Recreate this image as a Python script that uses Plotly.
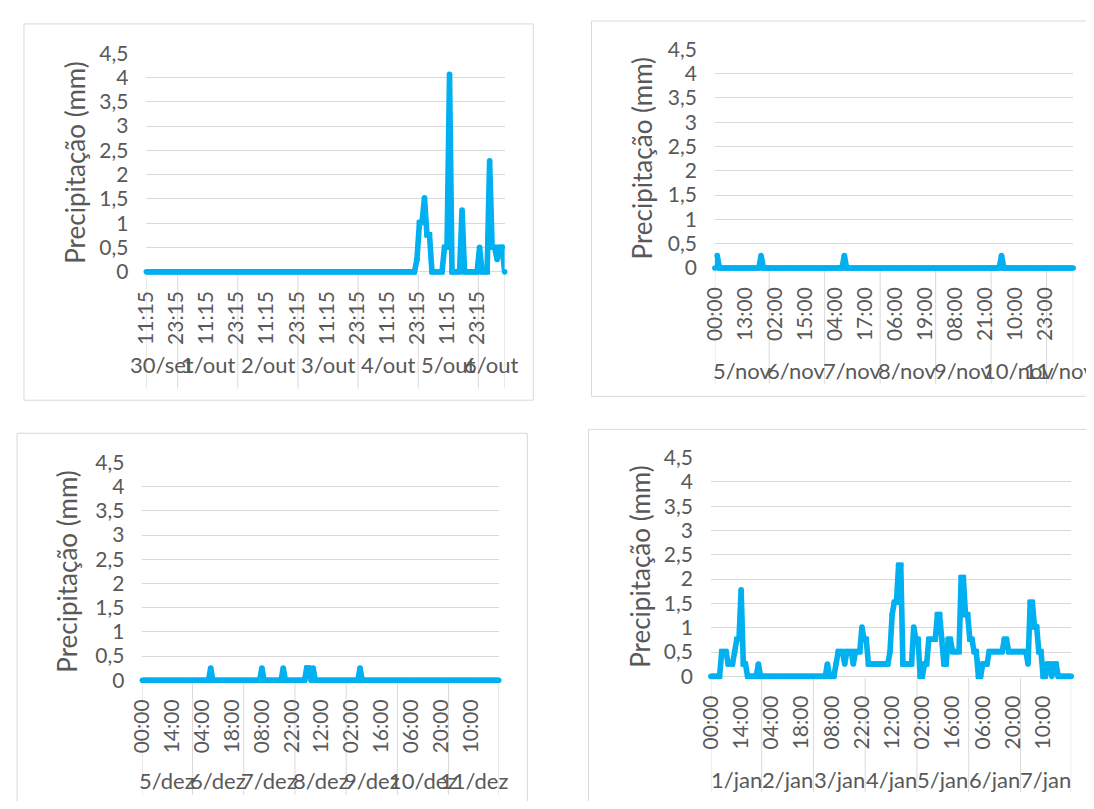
import pandas as pd
import plotly.graph_objects as go

# ---------------- data (hourly precipitation, mm) ----------------
# Panel 1: 30/set - 6/out (readings at hh:15)
p1_start = "2017-09-30 11:15"
p1_count = 144
p1_rain_times = ["2017-10-04 23:15", "2017-10-05 00:15", "2017-10-05 01:15", "2017-10-05 02:15",
                 "2017-10-05 03:15", "2017-10-05 04:15", "2017-10-05 10:15", "2017-10-05 11:15",
                 "2017-10-05 12:15", "2017-10-05 17:15", "2017-10-06 00:15", "2017-10-06 04:15",
                 "2017-10-06 05:15", "2017-10-06 06:15", "2017-10-06 07:15", "2017-10-06 08:15",
                 "2017-10-06 09:15"]
p1_rain_mm = [0.254, 1.016, 1.016, 1.524, 0.762, 0.762, 0.508, 0.508,
              4.064, 1.27, 0.508, 2.286, 0.508, 0.508, 0.254, 0.508, 0.508]
p1_day_labels = ["30/set", "1/out", "2/out", "3/out", "4/out", "5/out", "6/out"]
p1_label_step = 12

# Panel 2: 5/nov - 11/nov
p2_start = "2017-11-05 00:00"
p2_count = 156
p2_rain_times = ["2017-11-05 01:00", "2017-11-05 20:00", "2017-11-07 08:00", "2017-11-10 04:00"]
p2_rain_mm = [0.254, 0.254, 0.254, 0.254]
p2_day_labels = ["5/nov", "6/nov", "7/nov", "8/nov", "9/nov", "10/nov", "11/nov"]
p2_label_step = 13

# Panel 3: 5/dez - 11/dez
p3_start = "2017-12-05 00:00"
p3_count = 168
p3_rain_times = ["2017-12-06 08:00", "2017-12-07 08:00", "2017-12-07 18:00", "2017-12-08 05:00",
                 "2017-12-08 06:00", "2017-12-08 08:00", "2017-12-09 06:00"]
p3_rain_mm = [0.254, 0.254, 0.254, 0.254, 0.254, 0.254, 0.254]
p3_day_labels = ["5/dez", "6/dez", "7/dez", "8/dez", "9/dez", "10/dez", "11/dez"]
p3_label_step = 14

# Panel 4: 1/jan - 7/jan
p4_start = "2018-01-01 00:00"
p4_count = 168
p4_rain_times = [
    "2018-01-01 05:00", "2018-01-01 06:00", "2018-01-01 07:00", "2018-01-01 08:00", "2018-01-01 09:00",
    "2018-01-01 10:00", "2018-01-01 11:00", "2018-01-01 12:00", "2018-01-01 13:00", "2018-01-01 14:00",
    "2018-01-01 15:00", "2018-01-01 16:00", "2018-01-01 22:00",
    "2018-01-03 06:00", "2018-01-03 10:00", "2018-01-03 11:00", "2018-01-03 12:00", "2018-01-03 13:00",
    "2018-01-03 14:00", "2018-01-03 15:00", "2018-01-03 16:00", "2018-01-03 17:00", "2018-01-03 18:00",
    "2018-01-03 19:00", "2018-01-03 20:00", "2018-01-03 21:00", "2018-01-03 22:00", "2018-01-03 23:00",
    "2018-01-04 00:00", "2018-01-04 01:00", "2018-01-04 02:00", "2018-01-04 03:00", "2018-01-04 04:00",
    "2018-01-04 05:00", "2018-01-04 06:00", "2018-01-04 07:00", "2018-01-04 08:00", "2018-01-04 09:00",
    "2018-01-04 10:00", "2018-01-04 11:00", "2018-01-04 12:00", "2018-01-04 13:00", "2018-01-04 14:00",
    "2018-01-04 15:00", "2018-01-04 16:00", "2018-01-04 17:00", "2018-01-04 18:00", "2018-01-04 19:00",
    "2018-01-04 20:00", "2018-01-04 21:00", "2018-01-04 22:00", "2018-01-04 23:00",
    "2018-01-05 00:00", "2018-01-05 03:00", "2018-01-05 04:00", "2018-01-05 05:00", "2018-01-05 06:00",
    "2018-01-05 07:00", "2018-01-05 08:00", "2018-01-05 09:00", "2018-01-05 10:00", "2018-01-05 11:00",
    "2018-01-05 12:00", "2018-01-05 13:00", "2018-01-05 14:00", "2018-01-05 15:00", "2018-01-05 16:00",
    "2018-01-05 17:00", "2018-01-05 18:00", "2018-01-05 19:00", "2018-01-05 20:00", "2018-01-05 21:00",
    "2018-01-05 22:00", "2018-01-05 23:00",
    "2018-01-06 00:00", "2018-01-06 01:00", "2018-01-06 02:00", "2018-01-06 03:00", "2018-01-06 06:00",
    "2018-01-06 07:00", "2018-01-06 08:00", "2018-01-06 09:00", "2018-01-06 10:00", "2018-01-06 11:00",
    "2018-01-06 12:00", "2018-01-06 13:00", "2018-01-06 14:00", "2018-01-06 15:00", "2018-01-06 16:00",
    "2018-01-06 17:00", "2018-01-06 18:00", "2018-01-06 19:00", "2018-01-06 20:00", "2018-01-06 21:00",
    "2018-01-06 22:00", "2018-01-06 23:00",
    "2018-01-07 00:00", "2018-01-07 01:00", "2018-01-07 02:00", "2018-01-07 03:00", "2018-01-07 04:00",
    "2018-01-07 05:00", "2018-01-07 06:00", "2018-01-07 07:00", "2018-01-07 08:00", "2018-01-07 09:00",
    "2018-01-07 12:00", "2018-01-07 13:00", "2018-01-07 15:00", "2018-01-07 16:00"]
p4_rain_mm = [
    0.508, 0.508, 0.508, 0.254, 0.254,
    0.254, 0.508, 0.762, 0.762, 1.778,
    0.254, 0.254, 0.254,
    0.254, 0.254, 0.508, 0.508, 0.508,
    0.254, 0.508, 0.508, 0.508, 0.254,
    0.508, 0.508, 0.508, 1.016, 0.762,
    0.762, 0.254, 0.254, 0.254, 0.254,
    0.254, 0.254, 0.254, 0.254, 0.254,
    0.254, 0.508, 1.27, 1.524, 1.524,
    2.286, 2.286, 0.254, 0.254, 0.254,
    0.254, 0.254, 1.016, 0.762,
    0.762, 0.254, 0.254, 0.762, 0.762,
    0.762, 0.762, 1.27, 1.27, 0.762,
    0.254, 0.254, 0.762, 0.762, 0.508,
    0.508, 0.508, 0.508, 2.032, 2.032,
    1.27, 1.27,
    0.762, 0.762, 0.508, 0.508, 0.254,
    0.254, 0.254, 0.508, 0.508, 0.508,
    0.508, 0.508, 0.508, 0.508, 0.762,
    0.762, 0.508, 0.508, 0.508, 0.508,
    0.508, 0.508,
    0.508, 0.508, 0.508, 0.254, 1.524,
    1.524, 1.016, 1.016, 0.508, 0.508,
    0.254, 0.254, 0.254, 0.254]
p4_day_labels = ["1/jan", "2/jan", "3/jan", "4/jan", "5/jan", "6/jan", "7/jan"]
p4_label_step = 14

y_ticks = [0, 0.5, 1, 1.5, 2, 2.5, 3, 3.5, 4, 4.5]
y_title = "Precipitação (mm)"

# ---------------- styling / layout geometry (screen pixels) ----------------
SCREEN_W, SCREEN_H = 1094, 809
OFF = 8                      # default page margin around the figure div
W, H = SCREEN_W - 2 * OFF, SCREEN_H - 2 * OFF
FONT = "Lato"
TXT = "#595959"
GRID = "#D9D9D9"
BLUE = "#00B0F0"
TICK_SIZE = 21
DAY_SIZE = 22
TITLE_SIZE = 26

panels = [
    dict(start=p1_start, n=p1_count, rt=p1_rain_times, rv=p1_rain_mm, days=p1_day_labels, step=p1_label_step,
         xl=134, xr=497, yt=40, y0=265, frame=(10, 10, 526, 397), sepb=385, dayy=360, titlex=62),
    dict(start=p2_start, n=p2_count, rt=p2_rain_times, rv=p2_rain_mm, days=p2_day_labels, step=p2_label_step,
         xl=710, xr=1073, yt=36, y0=261, frame=(585, 7, 1110, 393), sepb=380, dayy=366, titlex=636),
    dict(start=p3_start, n=p3_count, rt=p3_rain_times, rv=p3_rain_mm, days=p3_day_labels, step=p3_label_step,
         xl=130, xr=491, yt=461, y0=685, frame=(3, 431, 520, 830), sepb=803, dayy=788, titlex=54),
    dict(start=p4_start, n=p4_count, rt=p4_rain_times, rv=p4_rain_mm, days=p4_day_labels, step=p4_label_step,
         xl=706, xr=1071, yt=456, y0=681, frame=(582, 427, 1110, 830), sepb=800, dayy=787, titlex=634),
]


def xp(px):
    return (px - OFF) / W


def yp(py):
    return 1 - (py - OFF) / H


fig = go.Figure()
shapes, annotations = [], []
layout_axes = {}
half = pd.Timedelta(minutes=30)

for i, p in enumerate(panels, start=1):
    sfx = "" if i == 1 else str(i)
    times = pd.date_range(p["start"], periods=p["n"], freq="h")
    series = pd.Series(0.0, index=times)
    series.loc[pd.to_datetime(p["rt"])] = p["rv"]

    fig.add_trace(go.Scatter(x=series.index, y=series.values, mode="lines+markers",
                             line=dict(color=BLUE, width=5.6),
                             marker=dict(color=BLUE, size=5.6, line=dict(width=0)),
                             hoverinfo="skip", showlegend=False, cliponaxis=False,
                             xaxis="x" + sfx, yaxis="y" + sfx))

    pad_px = 3.0
    scale = 4.5 / (p["y0"] - p["yt"])
    layout_axes["xaxis" + sfx] = dict(
        domain=[xp(p["xl"]), xp(p["xr"])], anchor="y" + sfx, type="date",
        range=[times[0], times[-1]], showgrid=False, zeroline=False, showline=False,
        tickmode="array", tickvals=list(times[::p["step"]]),
        ticktext=[t.strftime("%H:%M") for t in times[::p["step"]]],
        tickangle=-90, ticks="", ticklabelstandoff=11,
        tickfont=dict(family=FONT, size=TICK_SIZE, color=TXT), fixedrange=True)
    layout_axes["yaxis" + sfx] = dict(
        domain=[yp(p["y0"] + pad_px), yp(p["yt"])], anchor="x" + sfx,
        range=[-pad_px * scale, 4.5 + 0.001], tickmode="array", tickvals=y_ticks,
        showgrid=True, gridcolor=GRID, gridwidth=1, zeroline=False, showline=False,
        ticks="", ticklabelstandoff=17,
        tickfont=dict(family=FONT, size=TICK_SIZE, color=TXT), fixedrange=True)

    # frame
    fx0, fy0, fx1, fy1 = p["frame"]
    shapes.append(dict(type="rect", xref="paper", yref="paper",
                       x0=xp(fx0), x1=xp(fx1), y0=yp(fy1), y1=yp(fy0),
                       line=dict(color=GRID, width=1), fillcolor="rgba(0,0,0,0)", layer="below"))

    # day groups (category-slot spans)
    dates = sorted(set(times.normalize()))
    bounds = [times[0]]
    for d, lab in zip(dates, p["days"]):
        day_times = times[times.normalize() == d]
        a = max(day_times[0] - half, times[0])
        b = min(day_times[-1] + half, times[-1])
        bounds.append(b)
        annotations.append(dict(xref="x" + sfx, yref="paper", x=a + (b - a) / 2, y=yp(p["dayy"]),
                                text=lab, showarrow=False, xanchor="center", yanchor="middle",
                                font=dict(family=FONT, size=DAY_SIZE, color=TXT)))
    for bnd in bounds:
        shapes.append(dict(type="line", xref="x" + sfx, yref="paper", x0=bnd, x1=bnd,
                           y0=yp(p["y0"] + 2), y1=yp(p["sepb"]),
                           line=dict(color=GRID, width=1), layer="below"))

    # y-axis title
    annotations.append(dict(xref="paper", yref="paper", x=xp(p["titlex"]),
                            y=yp((p["yt"] + p["y0"]) / 2), text=y_title, textangle=-90,
                            showarrow=False, xanchor="center", yanchor="middle",
                            font=dict(family=FONT, size=TITLE_SIZE, color=TXT)))

fig.update_layout(width=W, height=H, margin=dict(l=0, r=0, t=0, b=0),
                  paper_bgcolor="white", plot_bgcolor="white", separators=", ",
                  shapes=shapes, annotations=annotations, **layout_axes)

fig.write_html("out.html", include_plotlyjs=True, config={"displayModeBar": False})
